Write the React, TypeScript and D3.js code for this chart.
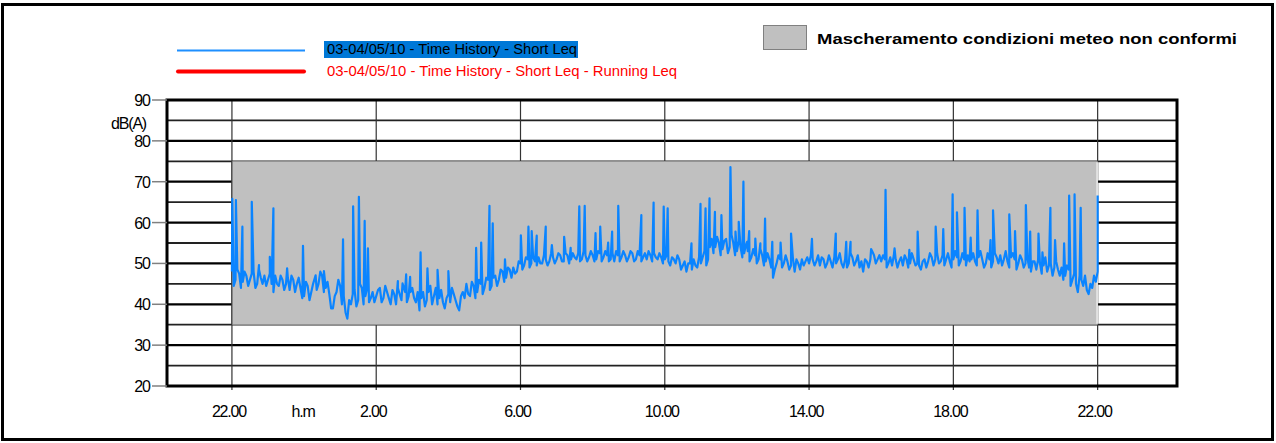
import React from "react";
import * as d3 from "d3";

// ---- data ----
// baseline Short Leq sampled every 0.1 h starting at 22.00 (hours after 22.00)
const baseStep = 0.1;
const baseLevels = [
  48, 46, 47.5, 45.5, 47, 46, 48, 45, 46.5, 47,
  46, 45, 47, 44.5, 46, 45, 43.5, 46, 45, 44,
  42, 44.5, 43, 46.5, 45, 47, 44, 42.5, 39, 43,
  44.5, 42, 36.5, 40, 43.5, 41, 44, 42, 40.5, 43,
  42, 44, 41.5, 43, 40, 42.5, 44, 41, 43, 42,
  44, 40.5, 38.5, 43, 41, 44.5, 42, 40, 43.5, 39,
  42.5, 44, 41, 38.5, 43, 45, 42, 44.5, 43, 45,
  44, 46, 44.5, 47, 46, 48, 46.5, 48.5, 49, 48,
  50, 49.5, 51, 50, 50.5, 51.5, 50, 51, 50.5, 51.5,
  51, 52, 50.5, 52, 51, 51.5, 52.5, 51, 52, 51.5,
  52, 51, 52.5, 51.5, 52, 51, 50.5, 52, 51.5, 52,
  51.5, 52.5, 51, 52, 51.5, 51, 52, 52.5, 51, 51.5,
  51, 50.5, 51.5, 50, 51, 49.5, 48, 50, 51, 49,
  50, 53, 51, 56, 54, 55, 53.5, 56, 54, 55,
  53, 54, 52.5, 53, 51.5, 52, 51, 52, 50.5, 51,
  46.5, 50, 51, 50, 50.5, 49.5, 48, 50, 51, 50.5,
  50, 51, 50.5, 49.5, 51, 50, 50.5, 51.5, 51, 50,
  51, 50, 51.5, 50.5, 49, 48, 50.5, 51, 52, 51,
  50.5, 51, 50, 49.5, 51, 50.5, 49.5, 51, 50, 51,
  50, 48.5, 51, 50.5, 51.5, 51, 50, 52, 51, 50.5,
  51, 51.5, 50.5, 51, 52, 51, 50.5, 51.5, 51, 50,
  51, 50.5, 51.5, 52, 51, 50.5, 51.5, 51, 50, 51,
  50, 49, 50.5, 48.5, 50, 49.5, 48, 50, 49, 48.5,
  49, 47, 48.5, 46, 45, 47, 44.5, 43.5, 45, 47,
  48,
];

// in-between readings, at 0.05 h past each baseline sample
const midLevels = [
  44.5, 48.5, 44, 48, 44.5, 47.5, 44, 48.5, 45, 44.5,
  47.5, 43, 45, 47, 43.5, 46.5, 47, 43, 46.5, 41.5,
  45.5, 41, 45, 43.5, 48, 43, 45.5, 39, 42, 46,
  40, 38, 41, 42.5, 39.5, 45, 40, 44, 41.5, 40.5,
  43.5, 40.5, 44.5, 41.5, 43.5, 40, 42.5, 44.5, 40.5, 43,
  41.5, 43, 41.5, 39.5, 43, 40, 44, 41.5, 40.5, 41.5,
  40.5, 42.5, 39.5, 42, 41.5, 42.5, 45.5, 41.5, 46, 42.5,
  46.5, 43.5, 46.5, 44.5, 48.5, 45.5, 49, 46.5, 47.5, 50.5,
  48.5, 51.5, 49, 51.5, 49.5, 50, 52, 49.5, 52.5, 50,
  52.5, 50.5, 52.5, 50, 52.5, 51, 50.5, 53, 50.5, 53,
  50.5, 53, 50.5, 53, 50.5, 52.5, 53, 50.5, 53, 50.5,
  53, 50.5, 53, 50.5, 52.5, 53, 50.5, 51.5, 52.5, 50,
  52, 49.5, 51, 52, 48.5, 50.5, 50, 48.5, 49.5, 51.5,
  51.5, 49.5, 54, 52.5, 56.5, 52, 55.5, 52.5, 57, 52,
  55.5, 51.5, 54.5, 50.5, 53.5, 50, 53.5, 49.5, 52.5, 49,
  48.5, 52, 49, 52, 48.5, 51.5, 51, 48.5, 49.5, 51.5,
  52, 49.5, 52, 51.5, 49, 52, 49, 50, 52.5, 49,
  49, 52.5, 49.5, 52, 50.5, 51, 49, 53, 50, 52,
  52, 49, 51.5, 52, 49, 51.5, 52, 49, 52.5, 49.5,
  49.5, 50.5, 49, 52.5, 49.5, 52.5, 50.5, 49.5, 52.5, 49,
  53, 49.5, 52.5, 49.5, 50.5, 52.5, 49.5, 53, 49, 52.5,
  49, 52.5, 50, 49.5, 53, 49, 52.5, 48.5, 52, 49,
  51.5, 48, 50.5, 51, 47.5, 51.5, 49.5, 47, 50.5, 47,
  46, 49.5, 44.5, 47.5, 43, 46, 47, 42.5, 44, 45.5,
];

// short peaks (hours after 22.00, dB(A))
const spikeTimes = [
  0.01, 0.11, 0.29, 0.55, 0.75, 1.05, 1.15, 1.53, 1.97, 2.32, 2.55, 3.08, 3.36, 3.52, 3.68, 3.77, 4.6, 4.83,
  4.73, 4.94, 5.23, 5.42, 5.7, 6.0, 6.77, 6.91, 7.14, 7.23, 7.57, 8.01, 8.22, 8.31, 8.45, 8.7, 8.87, 9.21, 9.39, 9.63,
  9.78, 10.08, 10.21, 10.43, 10.54, 10.71, 11.35, 11.69, 11.97, 12.08, 12.74, 12.99, 13.13, 13.24, 13.39, 13.57, 13.82, 13.96, 14.05, 14.18, 14.28,
  14.34, 14.51, 14.65, 14.78, 14.98, 15.21, 15.5, 16.08, 16.74, 17.03, 17.15, 17.72, 18.12, 18.37, 18.78, 19.01,
  19.51, 19.72, 19.98, 20.1, 20.31, 20.48, 20.67, 21.03, 21.1, 21.55, 21.71, 22.01, 22.13, 22.36, 22.47, 22.69, 22.82, 23.07, 23.21, 23.36, 23.53, 24.0,
];
const spikeLevels = [
  65.8, 65.5, 59, 65.1, 49.6, 51.6, 63.5, 48.8, 54.3, 47.1, 48.1, 55.9, 64.0, 66.3, 60.4, 53.7, 45.7, 47.3,
  45.1, 46.7, 52.7, 48.8, 48.4, 48.1, 53.8, 55.1, 64.1, 59.8, 51, 56.9, 59, 57.9, 56.8, 59, 54.5, 56.5, 53.8, 64.0,
  64.1, 57.4, 59, 55.1, 57.8, 64.1, 61.8, 64.9, 63.9, 63.5, 54.9, 64.6, 63.5, 65.9, 62.6, 61.8, 73.6, 57.8, 60.2, 70, 55.3,
  57.9, 56.1, 54.9, 61, 55.3, 55.1, 57.3, 56, 57.3, 55.3, 55.3, 53.5, 68, 53.7, 53.3, 57.8,
  59, 58.4, 66.9, 62.5, 63.6, 56.3, 63, 55.7, 63, 62, 57.9, 64.3, 57.8, 57.3, 52.7, 63.6, 55.7, 54.9, 66.6, 66.9, 63.6, 66.6,
];

const yTicks = [20, 30, 40, 50, 60, 70, 80, 90];
const yGrid = [25, 35, 45, 55, 65, 75, 85];
const xTickHours = [0, 4, 8, 12, 16, 20, 24];
const xTickLabels = ["22.00", "2.00", "6.00", "10.00", "14.00", "18.00", "22.00"];
const maskStart = 0;
const maskEnd = 24;
const maskLow = 35;
const maskHigh = 75;

const seriesLabel = "03-04/05/10 - Time History - Short Leq";
const runningLabel = "03-04/05/10 - Time History - Short Leq - Running Leq";
const maskLabel = "Mascheramento condizioni meteo non conformi";

export default function App() {
  const W = 1276;
  const H = 443;
  const left = 167;
  const right = 1177;
  const top = 100;
  const bottom = 386;

  const x = d3.scaleLinear().domain([-1.8, 26.2]).range([left, right]);
  const y = d3.scaleLinear().domain([20, 90]).range([bottom, top]);

  const pts: [number, number][] = [];
  baseLevels.forEach((v, i) => {
    pts.push([i * baseStep, v]);
    if (i < midLevels.length) pts.push([i * baseStep + baseStep / 2, midLevels[i]]);
  });
  spikeTimes.forEach((t, i) => pts.push([t, spikeLevels[i]]));
  pts.sort((a, b) => a[0] - b[0]);

  const line = d3
    .line<[number, number]>()
    .x((d) => x(d[0]))
    .y((d) => y(d[1]));

  const font = "'Liberation Sans', Arial, sans-serif";

  return (
    <svg
      width={W}
      height={H}
      style={{ position: "absolute", left: 0, top: 0, background: "#fff" }}
      fontFamily={font}
    >
      {/* outer frame */}
      <rect x={2.5} y={4.5} width={1270} height={435} fill="none" stroke="#000" strokeWidth={3} />

      {/* legend */}
      <line x1={177} x2={305} y1={50.5} y2={50.5} stroke="#1e8fff" strokeWidth={2} />
      <rect x={324} y={41} width={254} height={17} fill="#0078d7" />
      <text x={327} y={54} fontSize={15} fill="#000" textLength={250} lengthAdjust="spacingAndGlyphs">
        {seriesLabel}
      </text>
      <line x1={178} x2={304} y1={71.5} y2={71.5} stroke="#ff0000" strokeWidth={4} strokeLinecap="round" />
      <text x={327} y={76} fontSize={15} fill="#ff0000" textLength={350} lengthAdjust="spacingAndGlyphs">
        {runningLabel}
      </text>

      <rect x={763.5} y={25.5} width={43} height={24} fill="#c0c0c0" stroke="#808080" strokeWidth={1} />
      <text x={817} y={44} fontSize={15} fontWeight="bold" fill="#000" textLength={420} lengthAdjust="spacingAndGlyphs">
        {maskLabel}
      </text>

      {/* horizontal grid */}
      {yGrid.map((v) => (
        <line key={"g" + v} x1={left} x2={right} y1={y(v)} y2={y(v)} stroke="#222" strokeWidth={1.8} />
      ))}
      {yTicks.map((v) => (
        <line key={"t" + v} x1={left} x2={right} y1={y(v)} y2={y(v)} stroke="#000" strokeWidth={2.2} />
      ))}

      {/* vertical grid */}
      {xTickHours.map((h, i) => (
        <line key={"v" + i} x1={x(h)} x2={x(h)} y1={top} y2={bottom + 4} stroke="#333" strokeWidth={1.2} />
      ))}

      {/* mask band */}
      <rect
        x={x(maskStart)}
        y={y(maskHigh)}
        width={x(maskEnd) - x(maskStart)}
        height={y(maskLow) - y(maskHigh)}
        fill="#c0c0c0"
      />
      <line x1={x(maskEnd) - 0.5} x2={x(maskEnd) - 0.5} y1={y(maskHigh) + 1} y2={y(maskLow) - 1} stroke="#fff" strokeWidth={1.2} />
      <line x1={x(maskStart)} x2={x(maskStart)} y1={y(maskHigh)} y2={y(maskLow)} stroke="#333" strokeWidth={1} />

      {/* data */}
      <path d={line(pts) || ""} fill="none" stroke="#0a84ff" strokeWidth={2.2} strokeLinejoin="round" />

      {/* plot frame */}
      <rect x={left} y={top} width={right - left} height={bottom - top} fill="none" stroke="#000" strokeWidth={3} />

      {/* y axis */}
      {yTicks.map((v) => (
        <g key={"yl" + v}>
          <line x1={152} x2={left} y1={y(v)} y2={y(v)} stroke="#808080" strokeWidth={1.5} />
          <text x={150} y={y(v) + 6} fontSize={16} textAnchor="end" letterSpacing={-1}>
            {v}
          </text>
        </g>
      ))}
      <text x={146} y={129} fontSize={16} textAnchor="end" letterSpacing={-1.2}>
        dB(A)
      </text>

      {/* x axis labels */}
      {xTickHours.map((h, i) => (
        <text key={"xl" + i} x={x(h) - 3} y={417} fontSize={16} textAnchor="middle" letterSpacing={-1.2}>
          {xTickLabels[i]}
        </text>
      ))}
      <text x={303} y={417} fontSize={16} textAnchor="middle" letterSpacing={-1.2}>
        h.m
      </text>
    </svg>
  );
}
